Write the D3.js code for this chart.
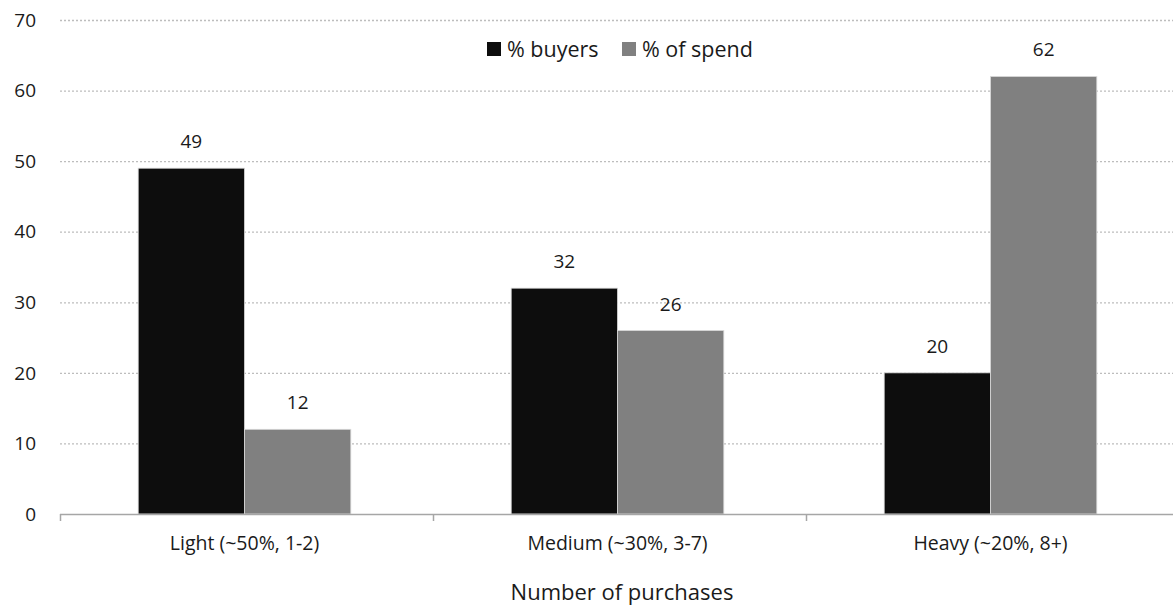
<!DOCTYPE html>
<html>
<head>
<meta charset="utf-8">
<script src="https://cdn.jsdelivr.net/npm/d3@7"></script>
<style>
  body { margin: 0; background: #fff; }
  text { font-family: "Open Sans", "Noto Sans", sans-serif; fill: #1a1a1a; }
</style>
</head>
<body>
<script>
const categories = ["Light (~50%, 1-2)", "Medium (~30%, 3-7)", "Heavy (~20%, 8+)"];
const seriesNames = ["% buyers", "% of spend"];
const buyers = [49, 32, 20];
const spend = [12, 26, 62];
const yTicks = [0, 10, 20, 30, 40, 50, 60, 70];
const xTitle = "Number of purchases";

const width = 1173, height = 606;
const colors = ["#0d0d0d", "#808080"];

const rows = categories.map((c, i) => ({cat: c, values: [buyers[i], spend[i]]}));

const svg = d3.select("body").append("svg")
  .attr("width", width)
  .attr("height", height);

const x0 = d3.scaleBand()
  .domain(categories)
  .range([58, 1177])
  .paddingInner(0.43)
  .paddingOuter(0.215);

const x1 = d3.scaleBand()
  .domain([0, 1])
  .range([0, x0.bandwidth()]);

const y = d3.scaleLinear().domain([0, 70]).range([514, 20]);

// gridlines
svg.append("g")
  .selectAll("line")
  .data(yTicks.filter(d => d > 0))
  .join("line")
  .attr("x1", 60).attr("x2", width)
  .attr("y1", d => y(d) + 0.5).attr("y2", d => y(d) + 0.5)
  .attr("stroke", "#bdbdbd")
  .attr("stroke-width", 1.3)
  .attr("stroke-dasharray", "2,2");

// y labels
svg.append("g")
  .selectAll("text")
  .data(yTicks)
  .join("text")
  .attr("x", 36)
  .attr("y", d => y(d))
  .attr("dy", "0.35em")
  .attr("text-anchor", "end")
  .style("font-size", "19px")
  .text(d => d);

// bars
const groups = svg.append("g")
  .selectAll("g")
  .data(rows)
  .join("g")
  .attr("transform", d => `translate(${x0(d.cat)},0)`);

groups.selectAll("rect")
  .data(d => d.values.map((v, i) => ({v, i})))
  .join("rect")
  .attr("x", d => x1(d.i))
  .attr("y", d => y(d.v))
  .attr("width", x1.bandwidth())
  .attr("height", d => y(0) - y(d.v))
  .attr("fill", d => colors[d.i])
  .attr("stroke", "#d9d9d9")
  .attr("stroke-width", 0.8);

groups.selectAll("text")
  .data(d => d.values.map((v, i) => ({v, i})))
  .join("text")
  .attr("x", d => x1(d.i) + x1.bandwidth() / 2)
  .attr("y", d => y(d.v) - 20)
  .attr("text-anchor", "middle")
  .style("font-size", "19px")
  .text(d => d.v);

// x axis
const xAxis = svg.append("g");
xAxis.append("line")
  .attr("x1", 60).attr("x2", width)
  .attr("y1", 514.5).attr("y2", 514.5)
  .attr("stroke", "#a6a6a6").attr("stroke-width", 1.5);

const step = x0.step();
const boundaries = d3.range(categories.length + 1).map(i => 60 + i * step);
xAxis.selectAll(".tick")
  .data(boundaries)
  .join("line")
  .attr("class", "tick")
  .attr("x1", d => d + 0.5).attr("x2", d => d + 0.5)
  .attr("y1", 514).attr("y2", 521)
  .attr("stroke", "#a6a6a6").attr("stroke-width", 1.5);

xAxis.selectAll("text")
  .data(categories)
  .join("text")
  .attr("x", d => x0(d) + x0.bandwidth() / 2)
  .attr("y", 550)
  .attr("text-anchor", "middle")
  .style("font-size", "19.5px")
  .text(d => d);

svg.append("text")
  .attr("x", 622)
  .attr("y", 600)
  .attr("text-anchor", "middle")
  .style("font-size", "22px")
  .text(xTitle);

// legend
const legendX = [487, 622];
const legend = svg.append("g")
  .selectAll("g")
  .data(seriesNames)
  .join("g")
  .attr("transform", (d, i) => `translate(${legendX[i]},42)`);
legend.append("rect")
  .attr("width", 14).attr("height", 14)
  .attr("fill", (d, i) => colors[i]);
legend.append("text")
  .attr("x", 20).attr("y", 7)
  .attr("dy", "0.35em")
  .style("font-size", "21.5px")
  .text(d => d);
</script>
</body>
</html>
